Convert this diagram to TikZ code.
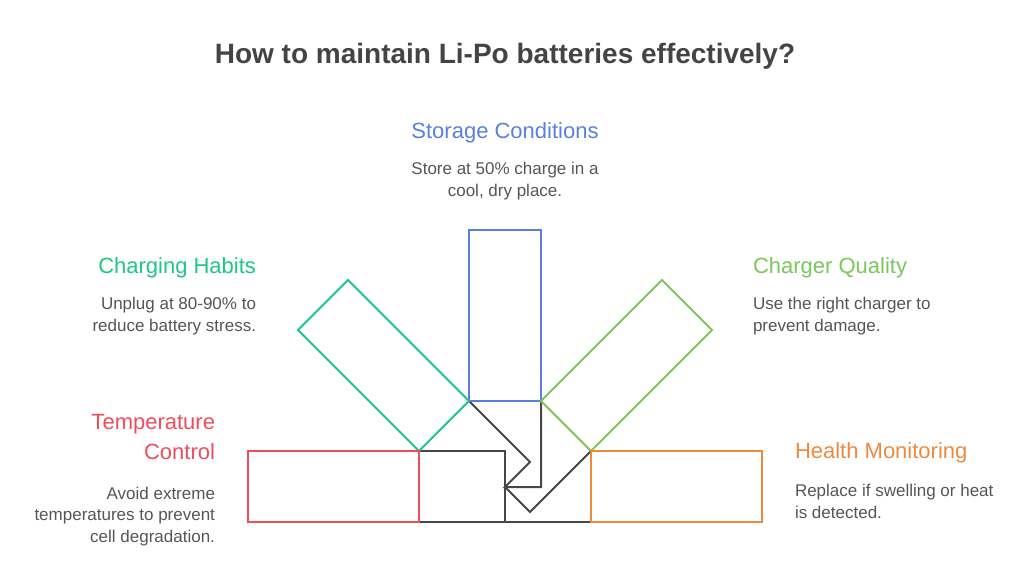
\documentclass[tikz,border=0pt]{standalone}
\usepackage{fontspec}
\setmainfont{Liberation Sans}
\usetikzlibrary{positioning}

\definecolor{titlegray}{HTML}{444444}
\definecolor{bodygray}{HTML}{555555}
\definecolor{coregray}{HTML}{474747}
\definecolor{storeblue}{HTML}{5A7FE0}
\definecolor{habitgreen}{HTML}{1DC685}
\definecolor{qualitylime}{HTML}{7CC65A}
\definecolor{tempred}{HTML}{EE4D5C}
\definecolor{healthorange}{HTML}{EE8A40}

\begin{document}
\begin{tikzpicture}[x=1pt,y=-1pt,line width=2pt,line join=miter,
                    head/.style={font=\fontsize{22}{30}\selectfont,inner sep=0pt},
                    body/.style={font=\fontsize{17}{21.5}\selectfont,text=bodygray,inner sep=0pt},
                    core/.style={draw=coregray}]
  \useasboundingbox (0,0) rectangle (1024,576);

  \node[font=\bfseries\fontsize{28}{34}\selectfont,text=titlegray,inner sep=0pt,anchor=base]
    (title) at (505,63) {How to maintain Li-Po batteries effectively?};

  % inner parts
  \draw[core] (419,451) -- (505,451) -- (505,522);
  \draw[core] (419,522) -- (591,522);
  \draw[core] (469,401) -- (530,462) -- (505,487) -- (541,487) -- (541,401);
  \draw[core] (591,451) -- (530,512) -- (505,487);

  % outer bars
  \draw[storeblue] (469,230) rectangle (541,401);
  \draw[habitgreen] (469,401) -- (419,451) -- (298,330) -- (348,280) -- cycle;
  \draw[qualitylime] (541,401) -- (591,451) -- (712,330) -- (662,280) -- cycle;
  \draw[tempred] (248,451) rectangle (419,522);
  \draw[healthorange] (591,451) rectangle (762,522);

  % labels (base = last line)
  \node[head,text=storeblue,anchor=base] (store) at (505,138) {Storage Conditions};
  \node[body,align=center,anchor=base] (storetxt) at (505,196) {Store at 50\% charge in a\\cool, dry place.};

  \node[head,text=habitgreen,anchor=base east] (habit) at (257,273) {Charging Habits};
  \node[body,align=right,anchor=base east] (habittxt) at (257,331) {Unplug at 80-90\% to\\reduce battery stress.};

  \node[head,text=qualitylime,anchor=base west] (quality) at (752,273) {Charger Quality};
  \node[body,align=left,anchor=base west] (qualitytxt) at (752,331) {Use the right charger to\\prevent damage.};

  \node[head,text=tempred,align=right,anchor=base east] (temp) at (216,459) {Temperature\\Control};
  \node[body,align=right,anchor=base east] (temptxt) at (216,542) {Avoid extreme\\temperatures to prevent\\cell degradation.};

  \node[head,text=healthorange,anchor=base west] (health) at (794,458) {Health Monitoring};
  \node[body,align=left,anchor=base west] (healthtxt) at (794,518) {Replace if swelling or heat\\is detected.};
\end{tikzpicture}
\end{document}
